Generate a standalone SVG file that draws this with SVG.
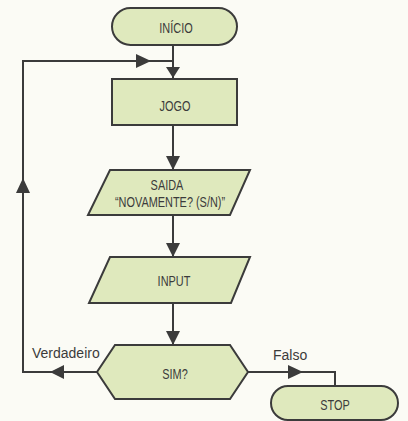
<svg xmlns="http://www.w3.org/2000/svg" width="408" height="421" viewBox="0 0 408 421">
<style>
.shape{fill:#dfe9bd;stroke:#3b3b3b;stroke-width:2}
.line{fill:none;stroke:#3b3b3b;stroke-width:2}
.head{fill:#3b3b3b}
.t{font-family:"Liberation Sans",Arial,sans-serif;font-size:14px;fill:#3b3b3b;text-anchor:middle}
.lbl{font-family:"Liberation Sans",Arial,sans-serif;font-size:14px;fill:#3b3b3b}
</style>
<rect width="408" height="421" fill="#fbfbf5"/>
<g id="connectors">
<path class="line" d="M173,45 V78"/>
<path class="head" d="M166,67 L180,67 L173,78 Z"/>
<path class="line" d="M173,125 V170"/>
<path class="head" d="M166,156 L180,156 L173,170 Z"/>
<path class="line" d="M173,215 V257"/>
<path class="head" d="M166,243 L180,243 L173,257 Z"/>
<path class="line" d="M173,303 V345"/>
<path class="head" d="M166,331 L180,331 L173,345 Z"/>
<path class="line" d="M97,372 H23 V61 H173"/>
<path class="head" d="M64,365 L64,379 L50,372 Z"/>
<path class="head" d="M16,193 L30,193 L23,178 Z"/>
<path class="head" d="M136,54 L136,68 L151,61 Z"/>
<path class="line" d="M248,372 H335 V386"/>
<path class="head" d="M288,365 L288,379 L303,372 Z"/>
</g>
<g id="inicio">
<rect class="shape" x="112" y="8" width="125" height="37" rx="18.5"/>
<text class="t" transform="translate(176,33) scale(0.78,1)">INÍCIO</text>
</g>
<g id="jogo">
<rect class="shape" x="112" y="79" width="125" height="46"/>
<text class="t" transform="translate(175,111) scale(0.78,1)">JOGO</text>
</g>
<g id="saida">
<polygon class="shape" points="110,170 250,170 230,215 88,215"/>
<text class="t" transform="translate(167,190) scale(0.78,1)">SAIDA</text>
<text class="t" transform="translate(170,207) scale(0.78,1)">“NOVAMENTE? (S/N)”</text>
</g>
<g id="input">
<polygon class="shape" points="110,257 250,257 231,303 89,303"/>
<text class="t" transform="translate(174,286) scale(0.78,1)">INPUT</text>
</g>
<g id="sim">
<polygon class="shape" points="115,345 230,345 248,372 230,399 115,399 97,372"/>
<text class="t" transform="translate(175,379) scale(0.78,1)">SIM?</text>
</g>
<g id="stop">
<rect class="shape" x="271" y="386" width="127" height="34" rx="17"/>
<text class="t" transform="translate(335,410) scale(0.78,1)">STOP</text>
</g>
<text class="lbl" x="32" y="358">Verdadeiro</text>
<text class="lbl" x="273" y="360">Falso</text>
</svg>
